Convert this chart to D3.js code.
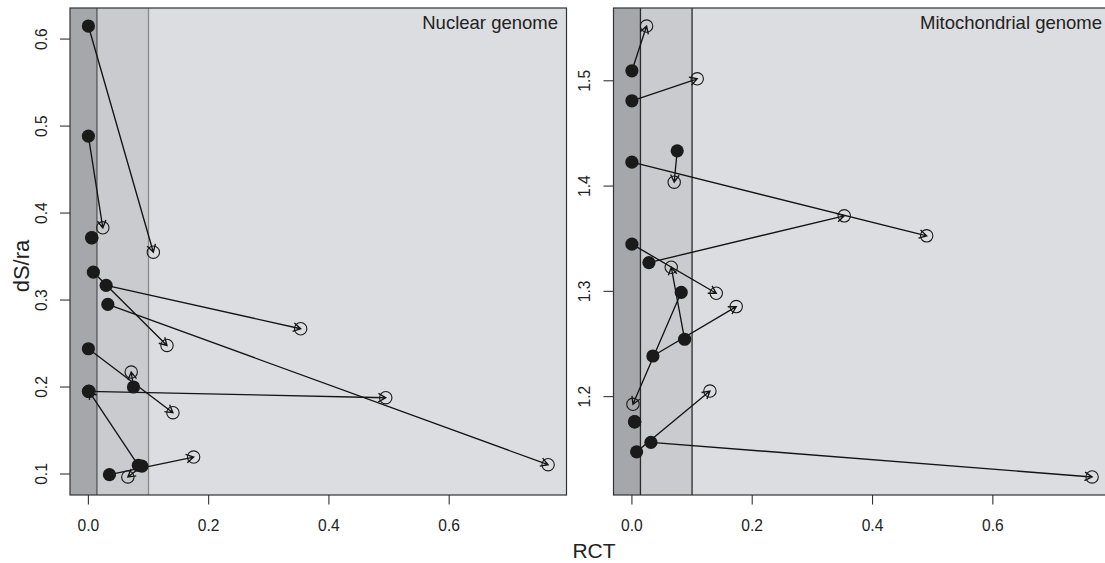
<!DOCTYPE html>
<html>
<head>
<meta charset="utf-8">
<script src="https://cdn.jsdelivr.net/npm/d3@7"></script>
<style>
  html, body { margin: 0; padding: 0; background: #ffffff; }
  svg { display: block; font-family: "Liberation Sans", Arial, Helvetica, sans-serif; }
</style>
</head>
<body>
<svg id="chart" width="1105" height="563"></svg>
<script>
// ---------------- DATA ----------------
// Nuclear genome: arrows from filled (start) to open (end) points
const nucStartRCT = [0.000, 0.000, 0.0056, 0.0083, 0.0295, 0.0323, 0.000, 0.075, 0.000, 0.083, 0.089, 0.035];
const nucStartDS  = [0.615, 0.4885, 0.3716, 0.332, 0.3168, 0.295, 0.244, 0.200, 0.195, 0.110, 0.109, 0.0992];
const nucEndRCT   = [0.108, 0.024, 0.0056, 0.1307, 0.353, 0.7645, 0.1406, 0.0712, 0.4945, 0.001, 0.0656, 0.175];
const nucEndDS    = [0.355, 0.383, 0.3716, 0.2478, 0.267, 0.1107, 0.1705, 0.2172, 0.1877, 0.195, 0.0966, 0.1195];

// Mitochondrial genome
const mitStartRCT = [0.000, 0.000, 0.000, 0.0753, 0.000, 0.0283, 0.082, 0.0349, 0.0876, 0.0045, 0.0316, 0.0078];
const mitStartDS  = [1.5095, 1.481, 1.4227, 1.4335, 1.3448, 1.3273, 1.2991, 1.2386, 1.2545, 1.1761, 1.1566, 1.1476];
const mitEndRCT   = [0.0244, 0.1086, 0.490, 0.0703, 0.1402, 0.353, 0.0017, 0.1734, 0.0654, 0.0045, 0.765, 0.1297];
const mitEndDS    = [1.552, 1.5019, 1.3527, 1.4037, 1.2982, 1.3717, 1.1927, 1.2855, 1.3229, 1.1761, 1.1237, 1.2053];

// RCT class boundaries (shaded bands)
const bandBreaks = [0.0142, 0.1];

// Tick labels
const xTicks = [0.0, 0.2, 0.4, 0.6];
const nucYTicks = [0.1, 0.2, 0.3, 0.4, 0.5, 0.6];
const mitYTicks = [1.2, 1.3, 1.4, 1.5];

const panelTitles = ["Nuclear genome", "Mitochondrial genome"];
const xTitle = "RCT";
const yTitle = "dS/ra";

// ---------------- DRAW ----------------
const svg = d3.select("#chart");
const TOP = 8, BOTTOM = 495;

const panels = [
  { left: 70, right: 566.5, sx: nucStartRCT, sy: nucStartDS, ex: nucEndRCT, ey: nucEndDS,
    yTicks: nucYTicks, title: panelTitles[0], divColors: ["#555", "#8a8a8a"] },
  { left: 613.5, right: 1110.5, sx: mitStartRCT, sy: mitStartDS, ex: mitEndRCT, ey: mitEndDS,
    yTicks: mitYTicks, title: panelTitles[1], divColors: ["#2a2a2a", "#2a2a2a"] }
];

function padDomain(vals) {
  const [mn, mx] = d3.extent(vals);
  const r = mx - mn;
  return [mn - 0.04 * r, mx + 0.04 * r];
}

const HEAD = 8.5, ANG = Math.PI / 6;

panels.forEach((p, pi) => {
  const x = d3.scaleLinear().domain(padDomain(p.sx.concat(p.ex))).range([p.left, p.right]);
  const y = d3.scaleLinear().domain(padDomain(p.sy.concat(p.ey))).range([BOTTOM, TOP]);
  const g = svg.append("g");

  const clipId = "clip" + pi;
  svg.append("clipPath").attr("id", clipId).append("rect")
    .attr("x", p.left).attr("y", TOP).attr("width", p.right - p.left).attr("height", BOTTOM - TOP);

  const x0 = x.domain()[0], x1 = x.domain()[1];
  const bands = [
    { a: x0, b: bandBreaks[0], fill: "#a6a7ab" },
    { a: bandBreaks[0], b: bandBreaks[1], fill: "#cacbce" },
    { a: bandBreaks[1], b: x1, fill: "#dcdde0" }
  ];
  g.selectAll("rect.band").data(bands).enter().append("rect")
    .attr("x", d => x(d.a)).attr("y", TOP)
    .attr("width", d => x(d.b) - x(d.a)).attr("height", BOTTOM - TOP)
    .attr("fill", d => d.fill);

  g.selectAll("line.div").data(bandBreaks).enter().append("line")
    .attr("x1", d => x(d)).attr("x2", d => x(d))
    .attr("y1", TOP).attr("y2", BOTTOM)
    .attr("stroke", (d, i) => p.divColors[i]).attr("stroke-width", 1.3);

  const plot = g.append("g").attr("clip-path", `url(#${clipId})`);

  // arrows
  const arrows = p.sx.map((v, i) => ({ x1: x(v), y1: y(p.sy[i]), x2: x(p.ex[i]), y2: y(p.ey[i]) }))
    .filter(a => Math.hypot(a.x2 - a.x1, a.y2 - a.y1) > 0.5);
  plot.selectAll("path.arrow").data(arrows).enter().append("path")
    .attr("fill", "none").attr("stroke", "#141414").attr("stroke-width", 1.35)
    .attr("d", a => {
      const th = Math.atan2(a.y2 - a.y1, a.x2 - a.x1);
      const h1x = a.x2 - HEAD * Math.cos(th - ANG), h1y = a.y2 - HEAD * Math.sin(th - ANG);
      const h2x = a.x2 - HEAD * Math.cos(th + ANG), h2y = a.y2 - HEAD * Math.sin(th + ANG);
      return `M${a.x1},${a.y1}L${a.x2},${a.y2}M${h1x},${h1y}L${a.x2},${a.y2}L${h2x},${h2y}`;
    });

  // open (end) points
  plot.selectAll("circle.end").data(p.ex.map((v, i) => [v, p.ey[i]])).enter().append("circle")
    .attr("cx", d => x(d[0])).attr("cy", d => y(d[1])).attr("r", 6.2)
    .attr("fill", "none").attr("stroke", "#1a1a1a").attr("stroke-width", 1.1);

  // filled (start) points
  plot.selectAll("circle.start").data(p.sx.map((v, i) => [v, p.sy[i]])).enter().append("circle")
    .attr("cx", d => x(d[0])).attr("cy", d => y(d[1])).attr("r", 6.6)
    .attr("fill", "#1a1a1a");

  // frame
  g.append("rect").attr("x", p.left).attr("y", TOP)
    .attr("width", p.right - p.left).attr("height", BOTTOM - TOP)
    .attr("fill", "none").attr("stroke", "#333").attr("stroke-width", 1.2);

  // x axis ticks
  const fmt = d3.format(".1f");
  const xa = g.append("g");
  xa.selectAll("line").data(xTicks).enter().append("line")
    .attr("x1", d => x(d)).attr("x2", d => x(d))
    .attr("y1", BOTTOM).attr("y2", BOTTOM + 9.5)
    .attr("stroke", "#333").attr("stroke-width", 1.1);
  xa.selectAll("text").data(xTicks).enter().append("text")
    .attr("x", d => x(d)).attr("y", 531)
    .attr("text-anchor", "middle").attr("font-size", 15.6).attr("fill", "#222")
    .text(d => fmt(d));

  // y axis ticks
  const ya = g.append("g");
  ya.selectAll("line").data(p.yTicks).enter().append("line")
    .attr("x1", p.left - 10).attr("x2", p.left)
    .attr("y1", d => y(d)).attr("y2", d => y(d))
    .attr("stroke", "#333").attr("stroke-width", 1.1);
  ya.selectAll("text").data(p.yTicks).enter().append("text")
    .attr("transform", d => `translate(${p.left - 23.5},${y(d)}) rotate(-90)`)
    .attr("text-anchor", "middle").attr("font-size", 15.6).attr("fill", "#222")
    .text(d => fmt(d));

  // panel title
  g.append("text").attr("x", (pi === 0 ? 558 : 1102)).attr("y", 29.3)
    .attr("text-anchor", "end").attr("font-size", 18.5).attr("fill", "#222")
    .text(p.title);
});

// axis titles
svg.append("text").attr("transform", "translate(29.3,266) rotate(-90)")
  .attr("text-anchor", "middle").attr("font-size", 22).attr("fill", "#222").text(yTitle);
svg.append("text").attr("x", 594).attr("y", 558)
  .attr("text-anchor", "middle").attr("font-size", 21).attr("fill", "#222").text(xTitle);
</script>
</body>
</html>
